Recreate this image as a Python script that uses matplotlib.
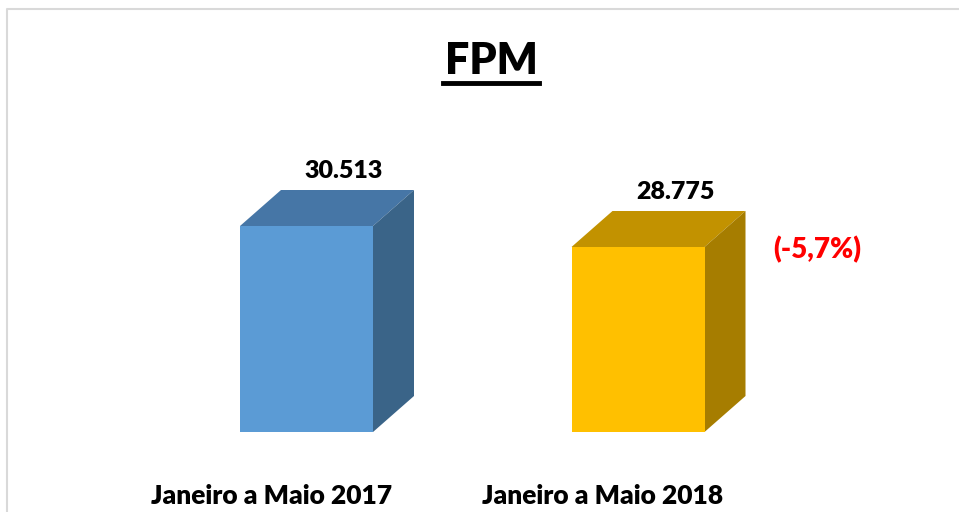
import matplotlib.pyplot as plt
from matplotlib.patches import Polygon
from matplotlib.lines import Line2D

categories = ['Janeiro a Maio 2017', 'Janeiro a Maio 2018']
values = [30513, 28775]
value_labels = ['30.513', '28.775']
change_label = '(-5,7%)'
front_colors = ['#5B9BD5', '#FFC000']
top_colors = ['#4676A6', '#C29200']
side_colors = ['#3A6488', '#A67D00']

plt.rcParams['font.family'] = ['Lato', 'DejaVu Sans']

W, H = 959, 512
fig = plt.figure(figsize=(W / 100, H / 100), dpi=100)

# axes placed so the bar baseline sits at y=432 px
base_px, top_px = 432, 100
ax = fig.add_axes([0, (H - base_px) / H, 1, (base_px - top_px) / H])
px_per_unit = 0.01208
y0 = 13460
ax.set_ylim(y0, y0 + (base_px - top_px) / px_per_unit)
spacing = 331.5
ax.set_xlim(-306.5 / spacing, (W - 306.5) / spacing)
ax.axis('off')

width = 133 / spacing
dx = 41 / spacing
dy = 36 / px_per_unit

x = list(range(len(values)))
ax.bar(x, [v - y0 for v in values], bottom=y0, width=width, color=front_colors,
       edgecolor='none', zorder=3)

for i, v in enumerate(values):
    l, r = i - width / 2, i + width / 2
    top = Polygon([(l, v), (r, v), (r + dx, v + dy), (l + dx, v + dy)],
                  closed=True, facecolor=top_colors[i], edgecolor='none', zorder=2)
    side = Polygon([(r, y0), (r, v), (r + dx, v + dy), (r + dx, y0 + dy)],
                   closed=True, facecolor=side_colors[i], edgecolor='none', zorder=2)
    ax.add_patch(top)
    ax.add_patch(side)
    ax.text(i + 37 / spacing, v + dy + 8 / px_per_unit, value_labels[i],
            ha='center', va='bottom', fontsize=18, fontweight='heavy', color='black')
    ax.text(i - 35 / spacing, y0 - 64 / px_per_unit, categories[i],
            ha='center', va='center', fontsize=19, fontweight='heavy', color='black')

ax.text(1 + 179 / spacing, values[1] - 3 / px_per_unit, change_label,
        ha='center', va='center', fontsize=20, fontweight='heavy', color='#FF0000')

# title with underline
fig.text(491 / W, 1 - 61 / H, 'FPM', ha='center', va='center', fontsize=31,
         fontweight='heavy', color='black')
fig.add_artist(Line2D([443 / W, 539 / W], [1 - 83 / H, 1 - 83 / H],
                      color='black', linewidth=3.5))

# chart border
fig.add_artist(Line2D([6.5 / W, 6.5 / W, 1], [0, 1 - 9 / H, 1 - 9 / H],
                      color='#D9D9D9', linewidth=1.5))

fig.savefig('out.png', dpi=100)
